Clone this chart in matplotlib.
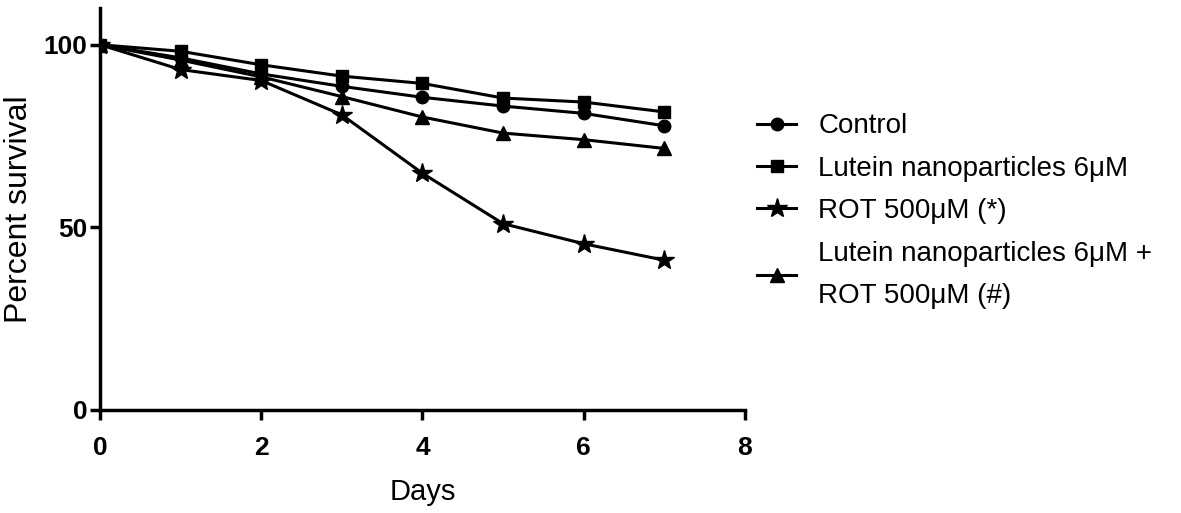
import matplotlib
matplotlib.use("Agg")
import matplotlib.pyplot as plt

# survival data
days = [0, 1, 2, 3, 4, 5, 6, 7]
control = [100, 96.4, 92.0, 88.6, 85.6, 83.2, 81.2, 77.8]
lutein = [100, 98.2, 94.5, 91.4, 89.4, 85.4, 84.3, 81.6]
rot = [100, 93.2, 90.2, 80.8, 64.8, 51.0, 45.5, 41.0]
lutein_rot = [100, 95.8, 91.2, 85.8, 80.2, 75.8, 74.0, 71.6]

labels = ["Control", "Lutein nanoparticles 6μM", "ROT 500μM (*)",
          "Lutein nanoparticles 6μM +\nROT 500μM (#)"]
markers = ["o", "s", "*", "^"]
msizes = [9, 9, 15, 10]

plt.rcParams['font.family'] = ['Liberation Sans', 'DejaVu Sans']

fig = plt.figure(figsize=(11.81, 5.13), dpi=100)
ax = fig.add_axes([0.0847, 0.201, 0.546, 0.783])

for y, m, ms, lab in zip([control, lutein, rot, lutein_rot], markers, msizes, labels):
    ax.plot(days, y, color="black", lw=2.2, marker=m, markersize=ms, label=lab)

ax.set_xlim(0, 8)
ax.set_ylim(0, 110)
ax.set_xticks([0, 2, 4, 6, 8])
ax.set_yticks([0, 50, 100])
for s in ["top", "right"]:
    ax.spines[s].set_visible(False)
for s in ["left", "bottom"]:
    ax.spines[s].set_linewidth(2.5)
ax.tick_params(width=2.5, length=7, labelsize=19)
ax.tick_params(axis="x", pad=12)
ax.tick_params(axis="y", pad=2)
for t in ax.get_xticklabels() + ax.get_yticklabels():
    t.set_fontweight("bold")

ax.set_xlabel("Days", fontsize=21, labelpad=13)
ax.set_ylabel("Percent survival", fontsize=23)
ax.yaxis.set_label_coords(-0.103, 0.5)

leg = fig.legend(*ax.get_legend_handles_labels(), loc="upper left",
                 bbox_to_anchor=(0.6295, 0.806), frameon=False, borderpad=0,
                 fontsize=20, handlelength=1.4, handletextpad=0.8, labelspacing=0.59)
for t in leg.get_texts():
    t.set_linespacing(1.8)

fig.savefig("out.png", dpi=100)
